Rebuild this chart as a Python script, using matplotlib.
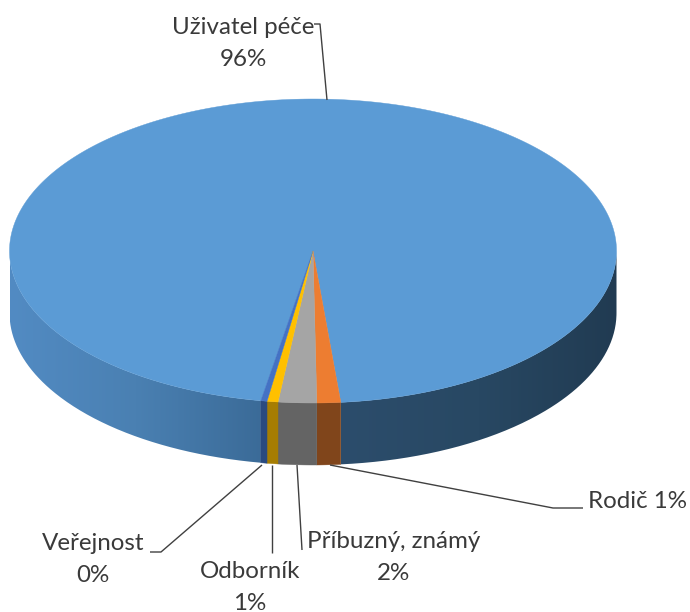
import numpy as np
import matplotlib
matplotlib.use("Agg")
import matplotlib.pyplot as plt
from matplotlib.path import Path
from matplotlib.patches import PathPatch
from matplotlib.colors import LinearSegmentedColormap

categories = ["Uživatel péče", "Rodič", "Příbuzný, známý", "Odborník", "Veřejnost"]
values = [95.8, 1.26, 2.04, 0.58, 0.33]
percent_labels = ["96%", "1%", "2%", "1%", "0%"]

top_colors = ["#5B9BD5", "#ED7D31", "#A5A5A5", "#FFC000", "#4472C4"]
wall_colors = ["#3F6E9C", "#80451B", "#646464", "#A67D02", "#2A4A80"]

CX, CY, RX, RY, DEPTH = 313, 251, 303.5, 152, 62
START = 189.9  # clockwise from top

plt.rcParams["font.family"] = ["Lato", "DejaVu Sans"]
fig = plt.figure(figsize=(6.9, 6.12), dpi=100)
ax = fig.add_axes([0, 0, 1, 1])
ax.set_xlim(0, 690)
ax.set_ylim(612, 0)
ax.axis("off")


def rim(theta, dy=0.0):
    t = np.radians(theta)
    return CX + RX * np.sin(t), CY - RY * np.cos(t) + dy


fractions = np.array(values) / np.sum(values) * 360
edges = START + np.concatenate([[0], np.cumsum(fractions)])

wall_grad_left = LinearSegmentedColormap.from_list("wl", ["#528BC3", "#4A80B2", "#3B6B98"])
wall_grad_right = LinearSegmentedColormap.from_list("wr", ["#2C4D6C", "#284863", "#213B52"])


def wall_path(a, b):
    th = np.linspace(a, b, 200)
    x, y = rim(th)
    xb, yb = rim(th, DEPTH)
    return Path(np.column_stack([np.r_[x, xb[::-1], x[0]], np.r_[y, yb[::-1], y[0]]]))


for i, (a, b) in enumerate(zip(edges[:-1], edges[1:])):
    if i == 0:
        for (s, e, cmap, x0, x1) in [
            (a, 270, wall_grad_left, CX - RX, rim(a)[0]),
            (450, b, wall_grad_right, rim(b)[0], CX + RX),
        ]:
            path = wall_path(s, e)
            im = ax.imshow(np.linspace(0, 1, 256)[None, :], cmap=cmap, aspect="auto",
                           extent=[x0, x1, 612, 0], zorder=1, interpolation="bilinear")
            patch = PathPatch(path, transform=ax.transData, fc="none", ec="none")
            ax.add_patch(patch)
            im.set_clip_path(patch)
    else:
        ax.add_patch(PathPatch(wall_path(a, b), fc=wall_colors[i], ec=wall_colors[i], lw=0.3, zorder=2))

ax.set_xlim(0, 690)
ax.set_ylim(612, 0)

for i, (a, b) in enumerate(zip(edges[:-1], edges[1:])):
    th = np.linspace(a, b, 400)
    x, y = rim(th)
    ax.fill(np.r_[CX, x], np.r_[CY, y], color=top_colors[i], lw=0.3, zorder=3)

leaders = [
    ([327, 320, 314], [100, 24, 24]),
    ([330, 553, 583], [465, 508, 508]),
    ([297, 302], [465, 550]),
    ([272, 272], [465, 553]),
    ([262, 161, 150], [465, 552, 552]),
]
for lx, ly in leaders:
    ax.plot(lx, ly, color="#404040", lw=1.0, zorder=4, solid_capstyle="butt")

FS = 17.4
TC = "#3A3A3A"
ax.text(243, 28, categories[0], fontsize=FS, color=TC, ha="center", va="center")
ax.text(243, 60, percent_labels[0], fontsize=FS, color=TC, ha="center", va="center")
ax.text(637, 501, f"{categories[1]} {percent_labels[1]}", fontsize=FS, color=TC, ha="center", va="center")
ax.text(394, 542, categories[2], fontsize=FS, color=TC, ha="center", va="center")
ax.text(394, 573, percent_labels[2], fontsize=FS, color=TC, ha="center", va="center")
ax.text(250, 571, categories[3], fontsize=FS, color=TC, ha="center", va="center")
ax.text(250, 603, percent_labels[3], fontsize=FS, color=TC, ha="center", va="center")
ax.text(93, 544, categories[4], fontsize=FS, color=TC, ha="center", va="center")
ax.text(93, 576, percent_labels[4], fontsize=FS, color=TC, ha="center", va="center")

fig.savefig("out.png", dpi=100)
